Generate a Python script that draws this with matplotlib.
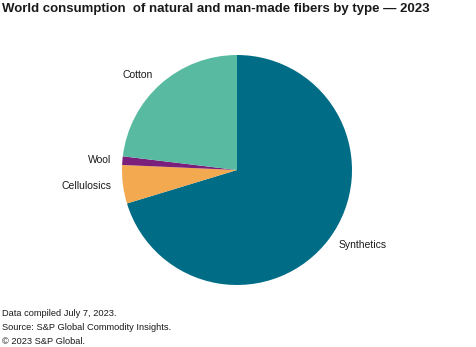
import matplotlib
matplotlib.use('Agg')
import matplotlib.pyplot as plt

fibers = ['Synthetics', 'Cellulosics', 'Wool', 'Cotton']
shares = [70.3, 5.4, 1.2, 23.1]  # percent of world consumption, 2023
colors = ['#006c86', '#f2a950', '#7a1f7c', '#58bba1']

title = 'World consumption  of natural and man-made fibers by type \u2014 2023'
notes = ['Data compiled July 7, 2023.',
         'Source: S&P Global Commodity Insights.',
         '\u00a9 2023 S&P Global.']

plt.rcParams['font.family'] = ['Liberation Sans', 'DejaVu Sans']

W, H = 476, 347
fig = plt.figure(figsize=(W / 100, H / 100), dpi=100)

# pie centred at (237, 170) px with radius 115 px
cx, cy, r = 237, 170, 115
ax = fig.add_axes([(cx - r) / W, (H - cy - r) / H, 2 * r / W, 2 * r / H])
ax.pie(shares, labels=fibers, colors=colors, startangle=90, counterclock=False,
       labeldistance=1.1, wedgeprops={'linewidth': 0},
       textprops={'fontsize': 7.5, 'color': '#1a1a1a'})
ax.set_xlim(-1, 1)
ax.set_ylim(-1, 1)
ax.set_aspect('equal')

fig.text(2 / W, 1 - 9 / H, title, fontsize=9.5, fontweight='bold',
         color='#1a1a1a', va='center', ha='left')
for i, line in enumerate(notes):
    fig.text(2 / W, 1 - (314 + 14 * i) / H, line, fontsize=6.7,
             color='#1a1a1a', va='center', ha='left')

fig.savefig('out.png', dpi=100)
